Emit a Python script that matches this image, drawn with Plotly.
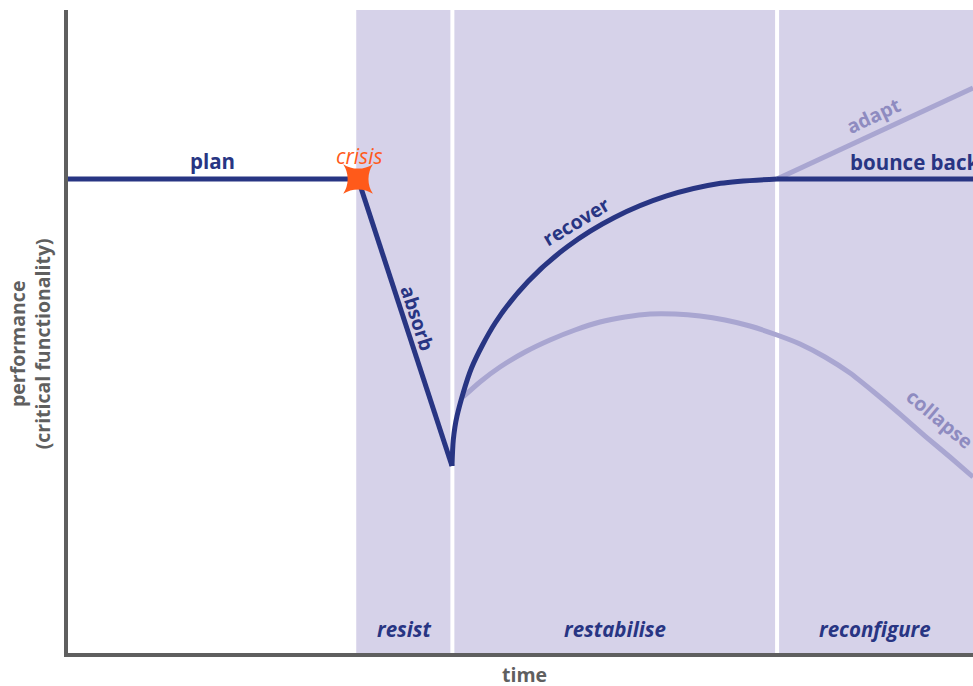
import plotly.graph_objects as go

# ---- data (time units 0..100, performance units 0..100) ----
plan_t = [0, 32.2]
plan_p = [73.8, 73.8]

absorb_t = [32.2, 42.56]
absorb_p = [73.8, 29.3]

recover_t = [42.56, 42.70, 43.11, 44.72, 47.35, 50.94, 55.35, 60.47, 66.14, 72.17, 78.39]
recover_p = [29.30, 33.33, 37.05, 44.53, 51.55, 57.91, 63.38, 67.83, 71.13, 73.13, 73.80]

bounce_t = [78.39, 100]
bounce_p = [73.8, 73.8]

adapt_t = [78.39, 100]
adapt_p = [73.8, 87.9]

collapse_t = [43.77, 45.64, 47.85, 50.61, 53.36, 56.12, 58.88, 61.63, 64.39, 67.15,
              69.90, 72.66, 75.41, 78.39, 80.93, 83.68, 86.44, 89.20, 91.95, 94.71,
              97.46, 100.0]
collapse_p = [40.00, 42.33, 44.65, 46.98, 48.84, 50.39, 51.63, 52.40, 52.87, 52.87,
              52.56, 51.94, 51.01, 49.61, 48.22, 46.20, 43.72, 40.62, 37.36, 33.95,
              30.70, 27.60]

crisis_t = [32.2]
crisis_p = [73.8]

phase_names = ["resist", "restabilise", "reconfigure"]
phase_start = [32.0, 42.6, 78.4]
phase_end = [42.6, 78.4, 100.0]

NAVY = "#283583"
LIGHT = "#a9a6d1"
LIGHT_TXT = "#8e8bc0"
SHADE = "#d6d2e9"
ORANGE = "#ff5a1a"
GRAY = "#5f5f5f"
FONT = "Open Sans"

X0 = 0.22
Y0 = 0.31

fig = go.Figure()

def line(t, p, color, smooth=0.8):
    fig.add_trace(go.Scatter(x=t, y=p, mode="lines",
                             line=dict(color=color, width=5, shape="spline", smoothing=smooth),
                             hoverinfo="skip", showlegend=False))

line(collapse_t, collapse_p, LIGHT, 0.6)
line(adapt_t, adapt_p, LIGHT)
line(plan_t, plan_p, NAVY)
line(absorb_t, absorb_p, NAVY)
line(recover_t, recover_p, NAVY)
line(bounce_t, bounce_p, NAVY)

fig.add_trace(go.Scatter(x=crisis_t, y=crisis_p, mode="markers",
                         marker=dict(symbol="star-square", size=27, color=ORANGE,
                                     line=dict(width=0)),
                         hoverinfo="skip", showlegend=False))

shapes = [dict(type="rect", xref="x", yref="y", x0=phase_start[0], x1=phase_end[-1],
               y0=Y0, y1=100, fillcolor=SHADE, line=dict(width=0), layer="below")]
for xb in phase_start[1:]:
    shapes.append(dict(type="line", xref="x", yref="y", x0=xb, x1=xb, y0=Y0, y1=100,
                       line=dict(color="white", width=4), layer="below"))

ann = []
def label(text, x, y, color=NAVY, size=19, angle=0, italic=False, bold=True):
    t = text
    if bold:
        t = "<b>" + t + "</b>"
    if italic:
        t = "<i>" + t + "</i>"
    ann.append(dict(text=t, x=x, y=y, xref="x", yref="y", showarrow=False,
                    textangle=angle, font=dict(family=FONT, size=size, color=color)))

label("plan", 16.2, 76.6, size=20.5)
label("crisis", 32.4, 77.4, color=ORANGE, size=21, italic=True, bold=False)
label("absorb", 38.8, 52.2, size=19.5, angle=72)
label("recover", 56.2, 67.2, size=19.5, angle=-31)
label("adapt", 89.0, 83.6, color=LIGHT_TXT, size=19.5, angle=-25)
label("bounce back", 93.5, 76.5, size=20.5)
label("collapse", 96.3, 36.6, color=LIGHT_TXT, size=19.5, angle=40)
for name, s, e in zip(phase_names, phase_start, phase_end):
    label(name, (s + e) / 2, 4.0, italic=True, size=20.5)

ann.append(dict(text="<b>time</b>", x=50.5, y=0, xref="x", yref="paper", yanchor="middle",
                yshift=-21, showarrow=False, font=dict(family=FONT, size=19.5, color=GRAY)))
ann.append(dict(text="<b>performance<br>(critical functionality)</b>", x=0, y=0.48,
                xref="paper", yref="paper", xanchor="center", yanchor="middle",
                xshift=-38, textangle=-90, showarrow=False,
                font=dict(family=FONT, size=19.5, color=GRAY)))

fig.update_layout(
    width=973, height=686,
    margin=dict(l=68, r=0, t=10, b=33),
    paper_bgcolor="white", plot_bgcolor="white",
    shapes=shapes, annotations=ann,
    xaxis=dict(range=[X0, 100], showgrid=False, zeroline=False, showticklabels=False,
               ticks="", showline=True, linecolor=GRAY, linewidth=4, fixedrange=True),
    yaxis=dict(range=[Y0, 100], showgrid=False, zeroline=False, showticklabels=False,
               ticks="", showline=True, linecolor=GRAY, linewidth=4, fixedrange=True),
)

fig.write_html("out.html", config={"displayModeBar": False},
               post_script="document.body.style.margin='0';document.body.style.overflow='hidden';")
